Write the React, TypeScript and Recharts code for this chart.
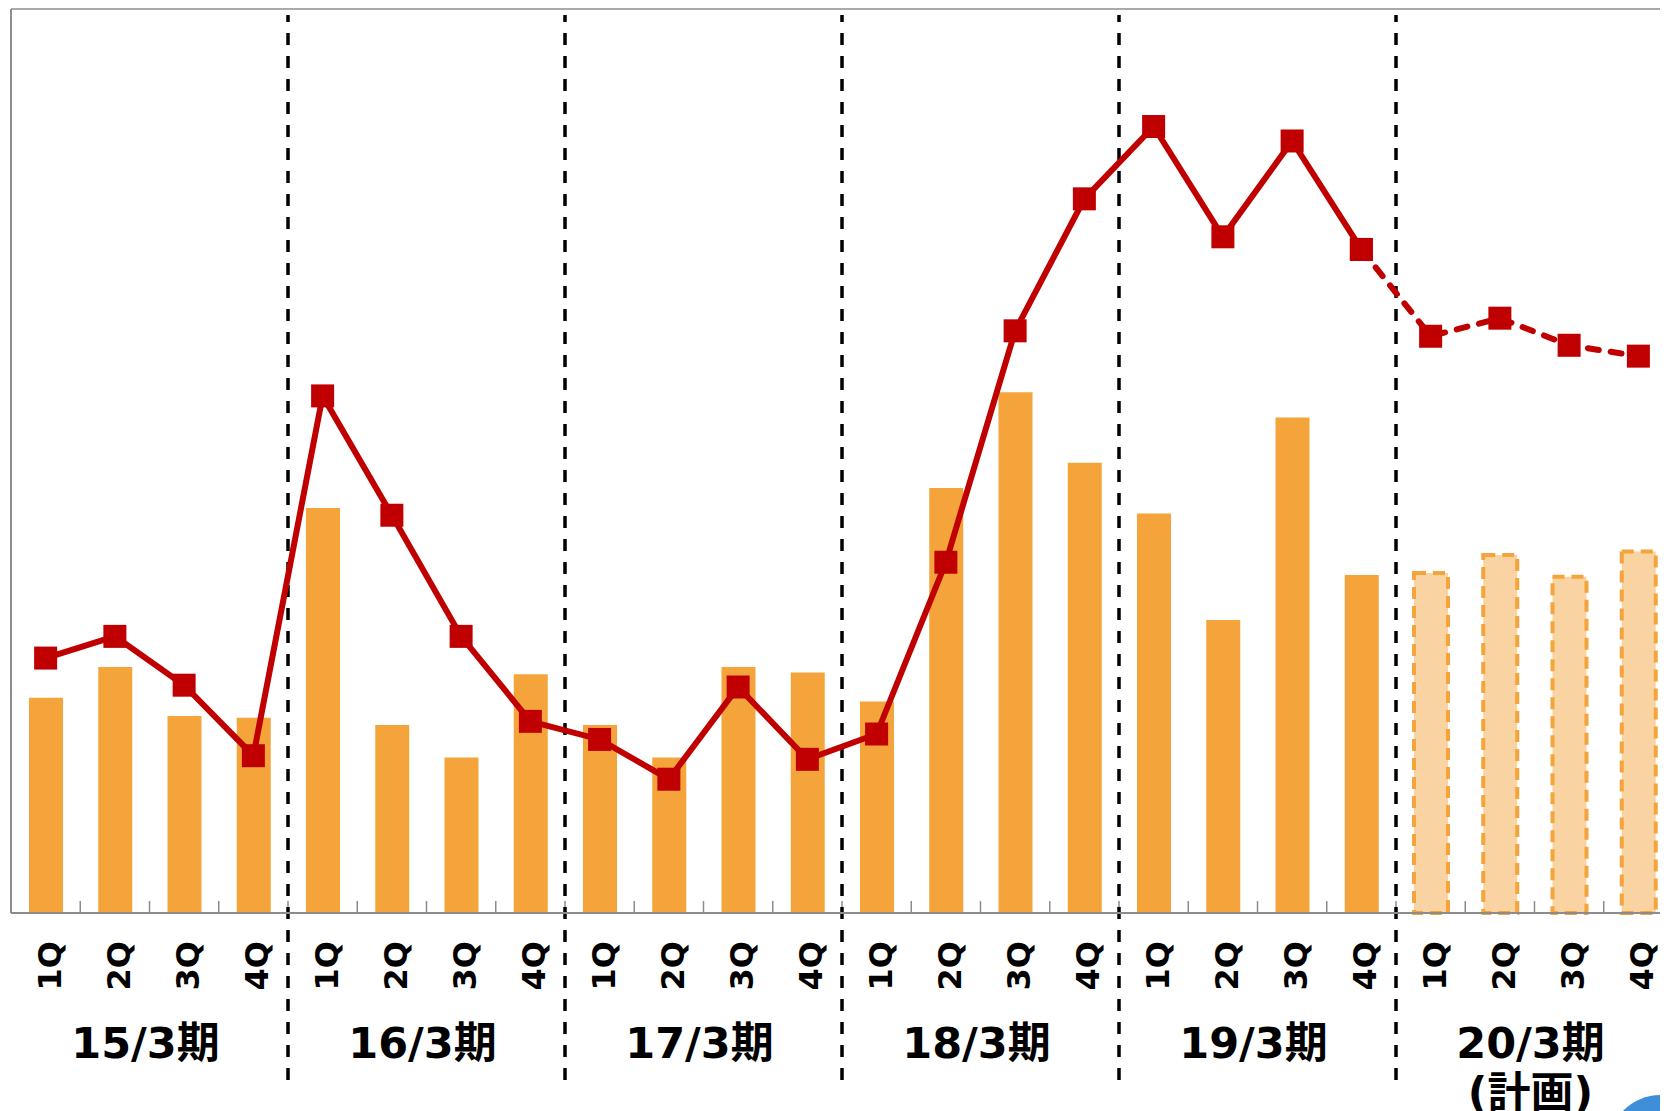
import React from "react"
import {
  ComposedChart,
  Bar,
  Line,
  Cell,
  XAxis,
  YAxis,
  CartesianGrid,
  ReferenceLine,
} from "recharts"

const fiscalYears = ["15/3期", "16/3期", "17/3期", "18/3期", "19/3期", "20/3期"]
const planYear = "20/3期"
const quarters = ["1Q", "2Q", "3Q", "4Q"]

// bar series (orange), 4 values per fiscal year
const barValues = [
  11.9, 13.6, 10.9, 10.8,
  22.4, 10.4, 8.6, 13.2,
  10.4, 8.6, 13.6, 13.3,
  11.7, 23.5, 28.8, 24.9,
  22.1, 16.2, 27.4, 18.7,
  18.8, 19.8, 18.6, 20.0,
]

// line series (red), actual results 15/3 - 19/3
const lineActual = [
  14.1, 15.3, 12.6, 8.7,
  28.6, 22.0, 15.3, 10.6,
  9.6, 7.4, 12.5, 8.5,
  9.9, 19.4, 32.2, 39.5,
  43.5, 37.4, 42.7, 36.7,
]

// line series (red, dashed), plan for 20/3
const linePlan = [31.9, 32.9, 31.4, 30.8]

const yTicks = [0, 10, 20, 30, 40, 50]

const RED = "#C00000"
const ORANGE = "#F4A43A"
const ORANGE_LIGHT = "#F9D4A2"
const GRID = "#8c8c8c"
const FONT = "'DejaVu Sans', 'Noto Sans CJK JP', sans-serif"

const data = fiscalYears.flatMap((fy, i) =>
  quarters.map((q, j) => {
    const idx = i * 4 + j
    const isPlan = fy === planYear
    return {
      key: `${fy}-${q}`,
      fy,
      q,
      isPlan,
      sales: barValues[idx],
      actual: isPlan ? null : lineActual[idx],
      plan: isPlan ? linePlan[j] : idx === lineActual.length - 1 ? lineActual[idx] : null,
    }
  })
)

const groupStarts = data.filter((d, i) => i > 0 && d.q === "1Q").map((d) => d.key)
const boundaryKeys = data.slice(1).map((d) => d.key)

const SquareDot = (props: any) => {
  const { cx, cy, value } = props
  if (value == null || cx == null || cy == null) return <g />
  return <rect x={cx - 11.5} y={cy - 11.5} width={23} height={23} fill={RED} />
}

const QuarterTick = (props: any) => {
  const { x, y, payload } = props
  const q = String(payload.value).split("-")[1]
  const ty = y + 28
  return (
    <text
      x={x + 4}
      y={ty}
      transform={`rotate(-90, ${x + 4}, ${ty})`}
      textAnchor="end"
      dominantBaseline="central"
      fontFamily={FONT}
      fontWeight="bold"
      fontSize={32}
      fill="#000"
    >
      {q}
    </text>
  )
}

const YearTick = (props: any) => {
  const { x, y, payload } = props
  const fy = payload.value
  return (
    <text x={x - 4} y={y + 45} textAnchor="middle" fontFamily={FONT} fontWeight="bold" fontSize={43} fill="#000">
      <tspan x={x - 4}>{fy}</tspan>
      {fy === planYear && (
        <tspan x={x - 4} dy={50}>
          (計画)
        </tspan>
      )}
    </text>
  )
}

export default function App() {
  return (
    <div style={{ width: 1660, height: 1103, overflow: "hidden", position: "relative" }}>
      <ComposedChart width={1665} height={1103} data={data} margin={{ top: 1, right: 0, bottom: 0, left: 0 }}>
        <CartesianGrid vertical={false} stroke={GRID} strokeWidth={1.5} />
        <YAxis
          domain={[0, 50]}
          ticks={yTicks}
          width={3}
          tick={false}
          tickLine={false}
          axisLine={{ stroke: GRID, strokeWidth: 2 }}
        />
        <XAxis
          dataKey="key"
          height={100}
          interval={0}
          tickSize={0}
          tickMargin={0}
          tickLine={false}
          axisLine={{ stroke: GRID, strokeWidth: 2 }}
          tick={<QuarterTick />}
        />
        <XAxis
          xAxisId="fy"
          dataKey="fy"
          allowDuplicatedCategory={false}
          height={98}
          interval={0}
          tickSize={0}
          tickMargin={0}
          tickLine={false}
          axisLine={false}
          tick={<YearTick />}
        />
        {boundaryKeys.map((k) => (
          <ReferenceLine
            key={`tick-${k}`}
            segment={[
              { x: k, y: 0 },
              { x: k, y: 0.66 },
            ]}
            position="start"
            stroke={GRID}
            strokeWidth={1.5}
            ifOverflow="visible"
          />
        ))}
        <Bar dataKey="sales" barSize={34} isAnimationActive={false}>
          {data.map((d) => (
            <Cell
              key={d.key}
              fill={d.isPlan ? ORANGE_LIGHT : ORANGE}
              stroke={d.isPlan ? ORANGE : "none"}
              strokeWidth={d.isPlan ? 4 : 0}
              strokeDasharray={d.isPlan ? "12 7" : undefined}
            />
          ))}
        </Bar>
        {groupStarts.map((k) => (
          <ReferenceLine
            key={`sep-${k}`}
            segment={[
              { x: k, y: -9.24 },
              { x: k, y: 49.67 },
            ]}
            position="start"
            stroke="#000"
            strokeWidth={3.5}
            strokeDasharray="12 11"
            ifOverflow="visible"
          />
        ))}
        <Line
          dataKey="actual"
          stroke={RED}
          strokeWidth={6}
          dot={<SquareDot />}
          activeDot={false}
          connectNulls={false}
          isAnimationActive={false}
        />
        <Line
          dataKey="plan"
          stroke={RED}
          strokeWidth={6}
          strokeDasharray="11 12"
          strokeLinecap="round"
          dot={<SquareDot />}
          activeDot={false}
          connectNulls={false}
          isAnimationActive={false}
        />
      </ComposedChart>
      <div
        style={{
          position: "absolute",
          left: 1601,
          top: 1087,
          width: 102,
          height: 102,
          borderRadius: "50%",
          background: "#3f8fd8",
        }}
      />
    </div>
  )
}
